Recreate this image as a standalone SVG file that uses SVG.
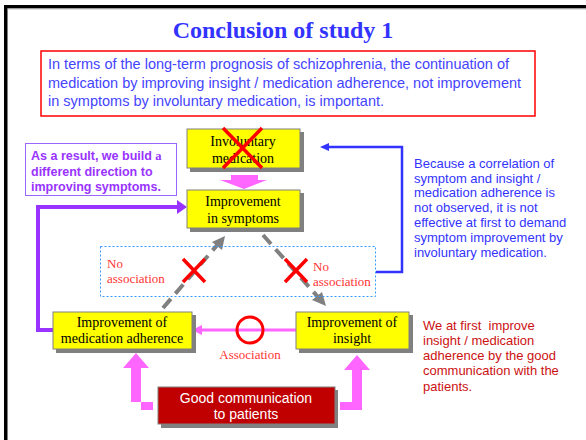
<svg xmlns="http://www.w3.org/2000/svg" width="586" height="440" viewBox="0 0 586 440">
<defs>
<style>
.box{fill:#ffff00;stroke:#808080;stroke-width:1}
.sh{fill:#808080}
.bt{font-family:"Liberation Serif",serif;font-size:14px;fill:#000;text-anchor:middle}
.rs{font-family:"Liberation Serif",serif;font-size:13px;fill:#ff3333}
.x{stroke:#ff0000;stroke-width:3.5;fill:none}
</style>
</defs>
<rect width="586" height="440" fill="#fff"/>
<rect x="4" y="5" width="582" height="3.5" fill="#000"/>
<rect x="4" y="5" width="3.5" height="435" fill="#000"/>
<line x1="7.5" y1="9" x2="586" y2="9" stroke="#c0c0c0" stroke-width="1"/>

<text x="283" y="38" text-anchor="middle" font-family="Liberation Serif,serif" font-weight="bold" font-size="24" fill="#3333ff">Conclusion of study 1</text>

<g id="summary">
<rect x="41" y="51" width="494" height="65" fill="#ffffff" stroke="#ff0000" stroke-width="1.5"/>
<g font-family="Liberation Sans,Arial,sans-serif" font-size="14.5" fill="#4444ff">
<text x="48" y="69">In terms of the long-term prognosis of schizophrenia, the continuation of</text>
<text x="48" y="88">medication by improving insight / medication adherence, not improvement</text>
<text x="48" y="106">in symptoms by involuntary medication, is important.</text>
</g>
</g>

<g id="connectors">
<polyline points="53,330 38,330 38,207 178,207" fill="none" stroke="#9933ff" stroke-width="4"/>
<path d="M177,200L187,207L177,214z" fill="#9933ff"/>
<polyline points="376,272 402,272 402,147 328,147" fill="none" stroke="#3333ff" stroke-width="2.5"/>
<path d="M320,147L329,143L329,151z" fill="#3333ff"/>
<path d="M231,175H258V180H267L244,189L220,180H231z" fill="#ff66ff"/>
<line x1="163" y1="308" x2="219" y2="243" stroke="#808080" stroke-width="4" stroke-dasharray="12,7"/>
<path d="M225,236L222,250L212,242z" fill="#808080"/>
<line x1="263" y1="235" x2="318" y2="297" stroke="#808080" stroke-width="4" stroke-dasharray="12,7"/>
<path d="M326,306L312,300L322,292z" fill="#808080"/>
<line x1="296" y1="330" x2="200" y2="330" stroke="#ff66ff" stroke-width="3"/>
<path d="M192,330L202,325L202,335z" fill="#ff66ff"/>
<path d="M153,402H131V368H123L136,353L149,368H141V410H153z" fill="#ff66ff"/>
<path d="M340,402H352V370H344L357,355L370,370H362V410H340z" fill="#ff66ff"/>
</g>

<g id="dotted-region">
<rect x="100.5" y="246.5" width="275" height="50" fill="none" stroke="#3399ff" stroke-width="1" stroke-dasharray="2,2"/>
<text class="rs" x="107" y="268">No</text>
<text class="rs" x="107" y="283">association</text>
<text class="rs" x="313" y="271">No</text>
<text class="rs" x="313" y="286">association</text>
<path class="x" d="M183,259L205,282M205,259L183,282"/>
<path class="x" d="M285,259L307,282M307,259L285,282"/>
</g>

<g id="n-involuntary">
<rect class="sh" x="190" y="132" width="114" height="40"/>
<rect class="box" x="187" y="129" width="113" height="39"/>
<text class="bt" x="243" y="146">Involuntary</text>
<text class="bt" x="243" y="163">medication</text>
<path class="x" d="M223,128L262,168M262,128L223,168"/>
</g>

<g id="n-symptoms">
<rect class="sh" x="190" y="193" width="114" height="39"/>
<rect class="box" x="187" y="190" width="113" height="38"/>
<text class="bt" x="243" y="206">Improvement</text>
<text class="bt" x="243" y="223">in symptoms</text>
</g>

<g id="n-result">
<rect x="25.5" y="143.5" width="151" height="52" fill="#fff" stroke="#9966ff" stroke-width="1"/>
<g font-family="Liberation Sans,Arial,sans-serif" font-weight="bold" font-size="12.5" fill="#9933ff">
<text x="31" y="160">As a result, we build <tspan font-family="Liberation Serif,serif">a</tspan></text>
<text x="31" y="176">different direction to</text>
<text x="31" y="191">improving symptoms.</text>
</g>
</g>

<g id="n-adherence">
<rect class="sh" x="56" y="315" width="140" height="38"/>
<rect class="box" x="53" y="312" width="139" height="37"/>
<text class="bt" x="122" y="327">Improvement of</text>
<text class="bt" x="122" y="343">medication adherence</text>
</g>

<g id="n-insight">
<rect class="sh" x="299" y="315" width="114" height="38"/>
<rect class="box" x="296" y="312" width="113" height="37"/>
<text class="bt" x="352" y="327">Improvement of</text>
<text class="bt" x="352" y="343">insight</text>
</g>

<g id="association">
<circle cx="250" cy="330" r="13" fill="none" stroke="#ff0000" stroke-width="3"/>
<text class="rs" x="250" y="359" text-anchor="middle">Association</text>
</g>

<g id="n-communication">
<rect class="sh" x="161" y="390" width="177" height="38"/>
<rect x="158" y="387" width="177" height="37" fill="#c00000" stroke="#808080" stroke-width="1"/>
<g font-family="Liberation Sans,Arial,sans-serif" font-size="14" fill="#fff" text-anchor="middle">
<text x="246" y="403">Good communication</text>
<text x="246" y="419">to patients</text>
</g>
</g>

<g id="note-blue" font-family="Liberation Sans,Arial,sans-serif" font-size="13" fill="#3333ff">
<text x="414" y="168">Because a correlation of</text>
<text x="414" y="183">symptom and insight /</text>
<text x="414" y="197">medication adherence is</text>
<text x="414" y="212">not observed, it is not</text>
<text x="414" y="227">effective at first to demand</text>
<text x="414" y="242">symptom improvement by</text>
<text x="414" y="257">involuntary medication.</text>
</g>

<g id="note-red" font-family="Liberation Sans,Arial,sans-serif" font-size="13" fill="#cc1111">
<text x="423" y="330">We at first&#160; improve</text>
<text x="423" y="345">insight / medication</text>
<text x="423" y="360">adherence by the good</text>
<text x="423" y="375">communication with the</text>
<text x="423" y="391">patients.</text>
</g>
</svg>
